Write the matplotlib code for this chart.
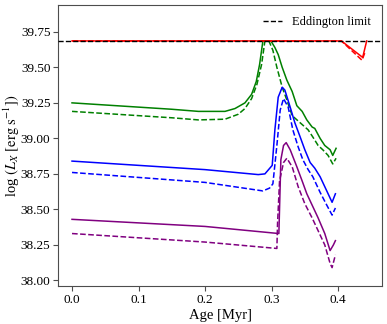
import numpy as np
import matplotlib
matplotlib.use("Agg")
import matplotlib.pyplot as plt

plt.rcParams['font.family'] = ['Liberation Serif', 'DejaVu Serif']
plt.rcParams['mathtext.fontset'] = 'stix'
plt.rcParams['font.size'] = 9

EDD = 39.686

# green track
age_g = [0.0, 0.05, 0.10, 0.15, 0.19, 0.23, 0.245, 0.26, 0.27, 0.277, 0.282, 0.287, 0.299, 0.305,
         0.310, 0.316, 0.323, 0.331, 0.338, 0.346, 0.353, 0.361, 0.365, 0.373, 0.380, 0.388, 0.392, 0.397]
lx_g = [39.25, 39.235, 39.22, 39.205, 39.19, 39.19, 39.21, 39.25, 39.31, 39.40, 39.52, EDD, EDD, 39.64,
        39.59, 39.50, 39.41, 39.33, 39.23, 39.19, 39.13, 39.08, 39.07, 39.00, 38.95, 38.92, 38.88, 38.93]
age_g2 = [0.0, 0.05, 0.10, 0.15, 0.19, 0.23, 0.25, 0.26, 0.27, 0.278, 0.285, 0.290, 0.296, 0.302,
          0.308, 0.316, 0.323, 0.331, 0.343, 0.355, 0.362, 0.370, 0.377, 0.385, 0.392, 0.397]
lx_g2 = [39.19, 39.175, 39.16, 39.145, 39.13, 39.135, 39.17, 39.21, 39.28, 39.38, 39.52, EDD, EDD, 39.62,
         39.50, 39.36, 39.27, 39.16, 39.11, 39.06, 39.01, 38.95, 38.92, 38.88, 38.82, 38.86]

# blue track
age_b = [0.0, 0.1, 0.2, 0.28, 0.29, 0.301, 0.305, 0.310, 0.316, 0.320, 0.328, 0.335, 0.343, 0.350,
         0.358, 0.365, 0.373, 0.380, 0.391, 0.396]
lx_b = [38.84, 38.81, 38.78, 38.745, 38.75, 38.81, 39.06, 39.29, 39.36, 39.34, 39.22, 39.11, 39.01, 38.92,
        38.83, 38.79, 38.73, 38.66, 38.55, 38.61]
age_b2 = [0.0, 0.1, 0.2, 0.287, 0.297, 0.302, 0.308, 0.313, 0.318, 0.325, 0.332, 0.340, 0.347, 0.355,
          0.362, 0.373, 0.383, 0.391, 0.396]
lx_b2 = [38.76, 38.725, 38.69, 38.63, 38.65, 38.68, 38.95, 39.20, 39.28, 39.22, 39.06, 38.94, 38.85, 38.78,
         38.73, 38.62, 38.53, 38.46, 38.51]

# purple track
age_p = [0.0, 0.1, 0.2, 0.311, 0.314, 0.318, 0.322, 0.328, 0.338, 0.346, 0.353, 0.361, 0.370, 0.380,
         0.388, 0.393, 0.396]
lx_p = [38.43, 38.405, 38.38, 38.33, 38.85, 38.95, 38.97, 38.92, 38.80, 38.70, 38.61, 38.53, 38.44, 38.33,
        38.21, 38.25, 38.28]
age_p2 = [0.0, 0.1, 0.2, 0.308, 0.309, 0.312, 0.318, 0.323, 0.331, 0.340, 0.350, 0.361, 0.370, 0.380,
          0.388, 0.391, 0.396]
lx_p2 = [38.33, 38.30, 38.27, 38.225, 38.40, 38.70, 38.83, 38.86, 38.80, 38.66, 38.54, 38.44, 38.35, 38.25,
         38.12, 38.09, 38.18]

# red track (at the limit)
age_r = [0.0, 0.405, 0.437, 0.443]
lx_r = [EDD, EDD, 39.57, EDD]
age_r2 = [0.0, 0.405, 0.436, 0.440]
lx_r2 = [EDD, EDD, 39.55, 39.60]

fig = plt.figure(figsize=(3.87, 3.24), dpi=100)
ax = fig.add_axes([0.150, 0.117, 0.837, 0.868])

lw = 1.1
ax.plot(age_g, lx_g, color='green', lw=lw)
ax.plot(age_g2, lx_g2, color='green', lw=lw, ls='--')
ax.plot(age_b, lx_b, color='blue', lw=lw)
ax.plot(age_b2, lx_b2, color='blue', lw=lw, ls='--')
ax.plot(age_p, lx_p, color='purple', lw=lw)
ax.plot(age_p2, lx_p2, color='purple', lw=lw, ls='--')
ax.plot(age_r, lx_r, color='red', lw=lw)
ax.plot(age_r2, lx_r2, color='red', lw=lw, ls='--')
ax.axhline(EDD, color='black', ls='--', lw=1.0, label='Eddington limit', zorder=5)

ax.set_xlim(-0.021, 0.466)
ax.set_ylim(37.96, 39.94)
ax.set_xticks([0.0, 0.1, 0.2, 0.3, 0.4])
ax.set_yticks([38.00, 38.25, 38.50, 38.75, 39.00, 39.25, 39.50, 39.75])
ax.set_yticklabels(['38.00', '38.25', '38.50', '38.75', '39.00', '39.25', '39.50', '39.75'])

for s in ax.spines.values():
    s.set_color('0.3')
ax.tick_params(colors='0.3', labelcolor='black', length=3.5, pad=2, labelsize=9.5)

ax.set_xlabel('Age [Myr]', fontsize=10.5, labelpad=2)
ax.set_ylabel(r'log $(L_X\ [\mathrm{erg\ s^{-1}}])$', fontsize=10.5)
ax.yaxis.set_label_coords(-0.11, 0.5)
ax.legend(loc='upper right', frameon=False, fontsize=9, handlelength=1.5)

fig.savefig('out.png', dpi=100)
